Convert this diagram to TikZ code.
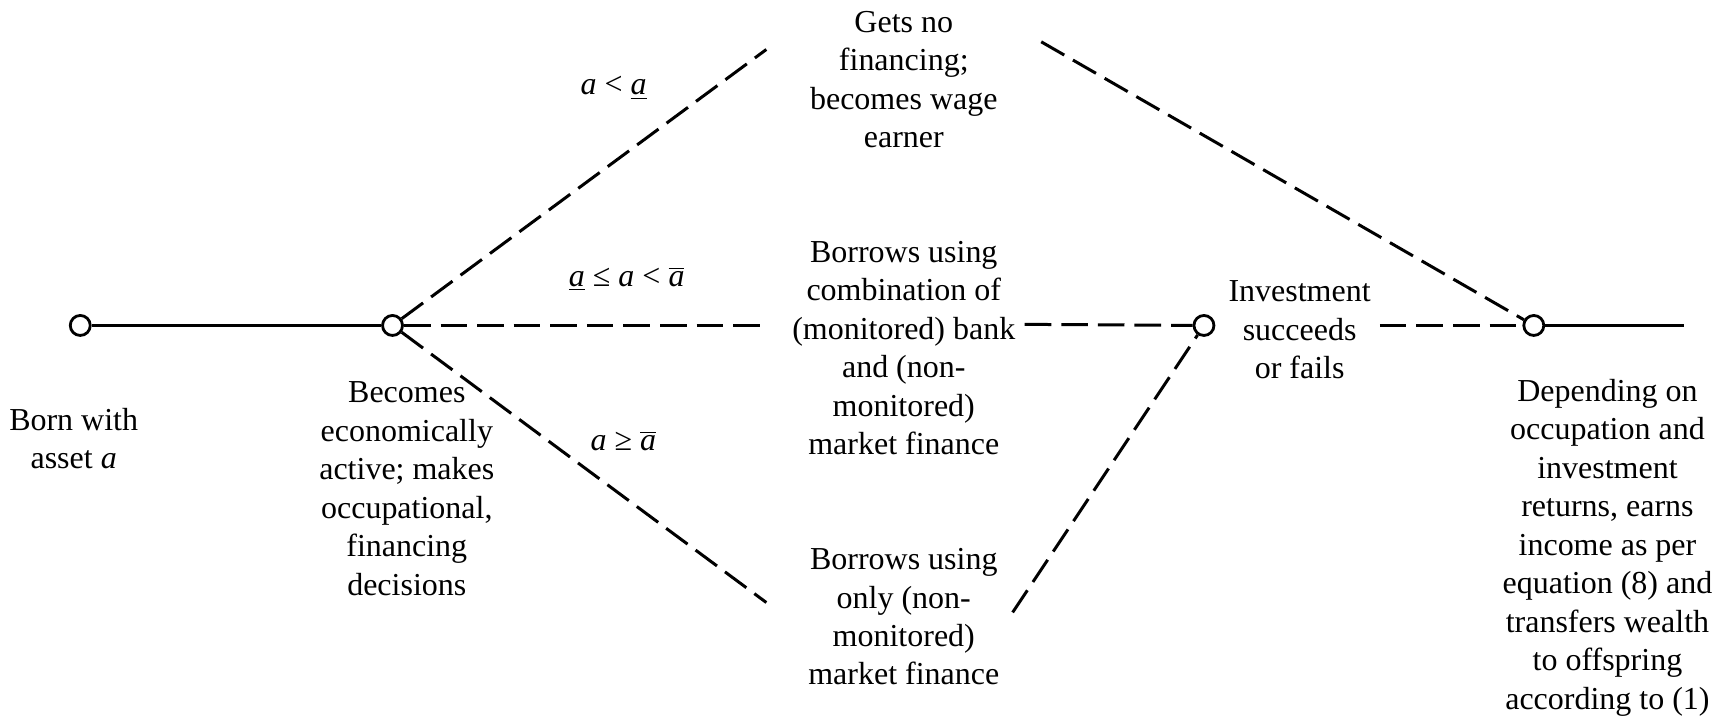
\documentclass[tikz,border=0pt]{standalone}
\usepackage{fontspec}
\setmainfont{Liberation Serif}
\begin{document}
\begin{tikzpicture}[x=0.55pt,y=-0.55pt,
  dot/.style={draw,circle,line width=1.4pt,minimum size=10pt,inner sep=0pt,fill=white},
  solidline/.style={line width=1.4pt},
  dashline/.style={line width=1.5pt,dash pattern=on 13.3pt off 5pt},
  txt/.style={align=center,inner sep=0pt,font=\fontsize{16}{19.25}\selectfont},
  lbl/.style={inner sep=0pt,font=\fontsize{16}{19.25}\selectfont}]
\useasboundingbox (0,0) rectangle (1568,654);
% event nodes
\node[dot] (c1) at (73,296) {};
\node[dot] (c2) at (357,296) {};
\node[dot] (c3) at (1095,296) {};
\node[dot] (c4) at (1395,296) {};
% free ends
\coordinate (gA) at (697,45);
\coordinate (gB) at (947,38);
\coordinate (mA) at (694,296);
\coordinate (mB) at (932,295);
\coordinate (bA) at (697,548);
\coordinate (bB) at (921,557);
\coordinate (iB) at (1255,296);
\coordinate (endR) at (1532,296);
% connectors
\draw[solidline] (c1) -- (c2);
\draw[dashline] (c2) -- (gA);
\draw[dashline] (c2) -- (mA);
\draw[dashline] (c2) -- (bA);
\draw[dashline] (mB) -- (c3);
\draw[dashline] (bB) -- (c3);
\draw[dashline] (iB) -- (c4);
\draw[dashline] (gB) -- (c4);
\draw[solidline] (c4) -- (endR);
% texts
\node[txt] (t1) at (67,399) {Born with\\asset \textit{a}};
\node[txt] (t2) at (370,444.5) {Becomes\\economically\\active; makes\\occupational,\\financing\\decisions};
\node[txt] (t3) at (822,72.5) {Gets no\\financing;\\becomes wage\\earner};
\node[txt] (t4) at (822,316.5) {Borrows using\\combination of\\(monitored) bank\\and (non-\\monitored)\\market finance};
\node[txt] (t5) at (822,561) {Borrows using\\only (non-\\monitored)\\market finance};
\node[txt] (t6) at (1182,300) {Investment\\succeeds\\or fails};
\node[txt] (t7) at (1462,498) {Depending on\\occupation and\\investment\\returns, earns\\income as per\\equation (8) and\\transfers wealth\\to offspring\\according to (1)};
\node[lbl] (l1) at (558,80) {\textit{a} < \underline{\textit{a}}};
\node[lbl] (l2) at (570,254) {\underline{\textit{a}} ≤ \textit{a} < $\overline{\mbox{\textit{a}}}$};
\node[lbl] (l3) at (567,401) {\textit{a} ≥ $\overline{\mbox{\textit{a}}}$};
\end{tikzpicture}
\end{document}
